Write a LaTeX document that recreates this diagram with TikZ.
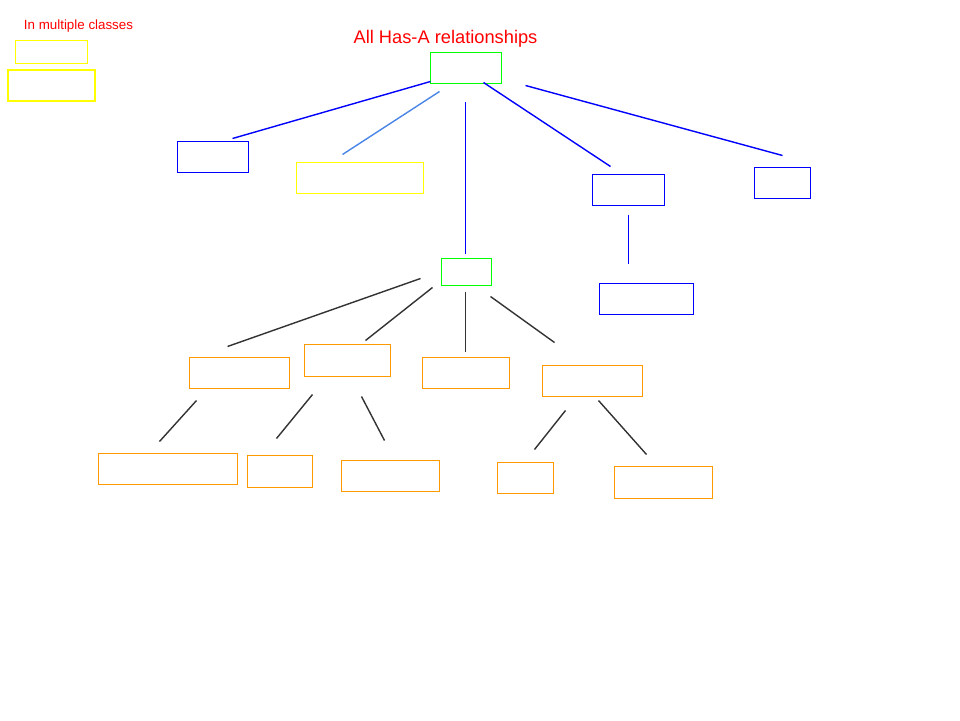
\documentclass[tikz,border=0pt]{standalone}
\usepackage{xcolor}
\usepackage{fontspec}
\setmainfont{Liberation Sans}
\usepackage{tikz}
\definecolor{hasgreen}{HTML}{00FF00}
\definecolor{hasblue}{HTML}{0000FF}
\definecolor{hasyellow}{HTML}{FFFF00}
\definecolor{hasorange}{HTML}{FF9900}
\definecolor{hassky}{HTML}{4A86E8}
\definecolor{hasink}{HTML}{333333}
\def\px{0.02cm}
\tikzset{
  % an empty class box
  cls/.style   = {draw, rectangle, inner sep=0pt, line width=1pt},
  % a has-a link
  lnk/.style   = {line width=0.8pt},
  % the red notes
  note/.style  = {text=red, inner sep=0pt},
}
\newcommand{\hasa}[5]{%
  \coordinate (#2-#3) at (#4);
  \coordinate (#3-#2) at (#5);
  \draw[lnk, #1] (#2-#3) -- (#3-#2);
}

\begin{document}
\begin{tikzpicture}[x=0.02cm, y=-0.02cm]
  \useasboundingbox[fill=white] (0,0) rectangle (960,720);
  \begin{scope}[shift={(0.5,0.5)}]
  % legend
  \node[note, font=\fontsize{7.6}{9}\selectfont] (legend) at (78,26) {In multiple classes};
  \node[cls, draw=hasyellow, line width=0.8pt, minimum width=72*\px, minimum height=23*\px] (leg1) at (51,51.5) {};
  \node[cls, draw=hasyellow, line width=1.1pt, minimum width=87*\px, minimum height=31*\px] (leg2) at (51,85) {};
  % title
  \node[note, font=\fontsize{10.4}{12}\selectfont] (title) at (445,38) {All Has-A relationships};
  % top level
  \node[cls, draw=hasgreen,  minimum width=71*\px,  minimum height=31*\px] (root) at (465.5,67.5) {};
  \node[cls, draw=hasblue,   minimum width=71*\px,  minimum height=31*\px] (bl)   at (212.5,156.5) {};
  \node[cls, draw=hasyellow, minimum width=127*\px, minimum height=31*\px] (yel)  at (359.5,177.5) {};
  \node[cls, draw=hasblue,   minimum width=72*\px,  minimum height=31*\px] (br)   at (628,189.5) {};
  \node[cls, draw=hasblue,   minimum width=56*\px,  minimum height=31*\px] (bfr)  at (782,182.5) {};
  \node[cls, draw=hasblue,   minimum width=94*\px,  minimum height=31*\px] (bsub) at (646,298.5) {};
  \node[cls, draw=hasgreen,  minimum width=50*\px,  minimum height=27*\px] (hub)  at (466,271.5) {};
  % orange classes
  \node[cls, draw=hasorange, minimum width=100*\px, minimum height=31*\px] (oA) at (239,372.5) {};
  \node[cls, draw=hasorange, minimum width=86*\px,  minimum height=32*\px] (oB) at (347,360) {};
  \node[cls, draw=hasorange, minimum width=87*\px,  minimum height=31*\px] (oC) at (465.5,372.5) {};
  \node[cls, draw=hasorange, minimum width=100*\px, minimum height=31*\px] (oD) at (592,380.5) {};
  \node[cls, draw=hasorange, minimum width=139*\px, minimum height=31*\px] (oE) at (167.5,468.5) {};
  \node[cls, draw=hasorange, minimum width=65*\px,  minimum height=32*\px] (oF) at (279.5,471) {};
  \node[cls, draw=hasorange, minimum width=98*\px,  minimum height=31*\px] (oG) at (390,475.5) {};
  \node[cls, draw=hasorange, minimum width=56*\px,  minimum height=31*\px] (oH) at (525,477.5) {};
  \node[cls, draw=hasorange, minimum width=98*\px,  minimum height=32*\px] (oI) at (663,482) {};
  % links
  \hasa{hasblue}{root}{bl}{430,81}{232,138}
  \hasa{hassky}{root}{yel}{439,91}{342,154}
  \hasa{hasblue}{root}{hub}{465,101}{465,253}
  \hasa{hasblue}{root}{br}{483,82}{610,166}
  \hasa{hasblue}{root}{bfr}{525,85}{782,155}
  \hasa{hasblue}{br}{bsub}{628,214}{628,263}
  \hasa{hasink}{hub}{oA}{420,278}{227,346}
  \hasa{hasink}{hub}{oB}{432,287}{365,340}
  \hasa{hasink}{hub}{oC}{465,291}{465,351}
  \hasa{hasink}{hub}{oD}{490,296}{554,342}
  \hasa{hasink}{oA}{oE}{196,400}{159,441}
  \hasa{hasink}{oB}{oF}{312,394}{276,438}
  \hasa{hasink}{oB}{oG}{361,396}{384,440}
  \hasa{hasink}{oD}{oH}{565,410}{534,449}
  \hasa{hasink}{oD}{oI}{598,400}{646,454}
  \end{scope}
\end{tikzpicture}
\end{document}
